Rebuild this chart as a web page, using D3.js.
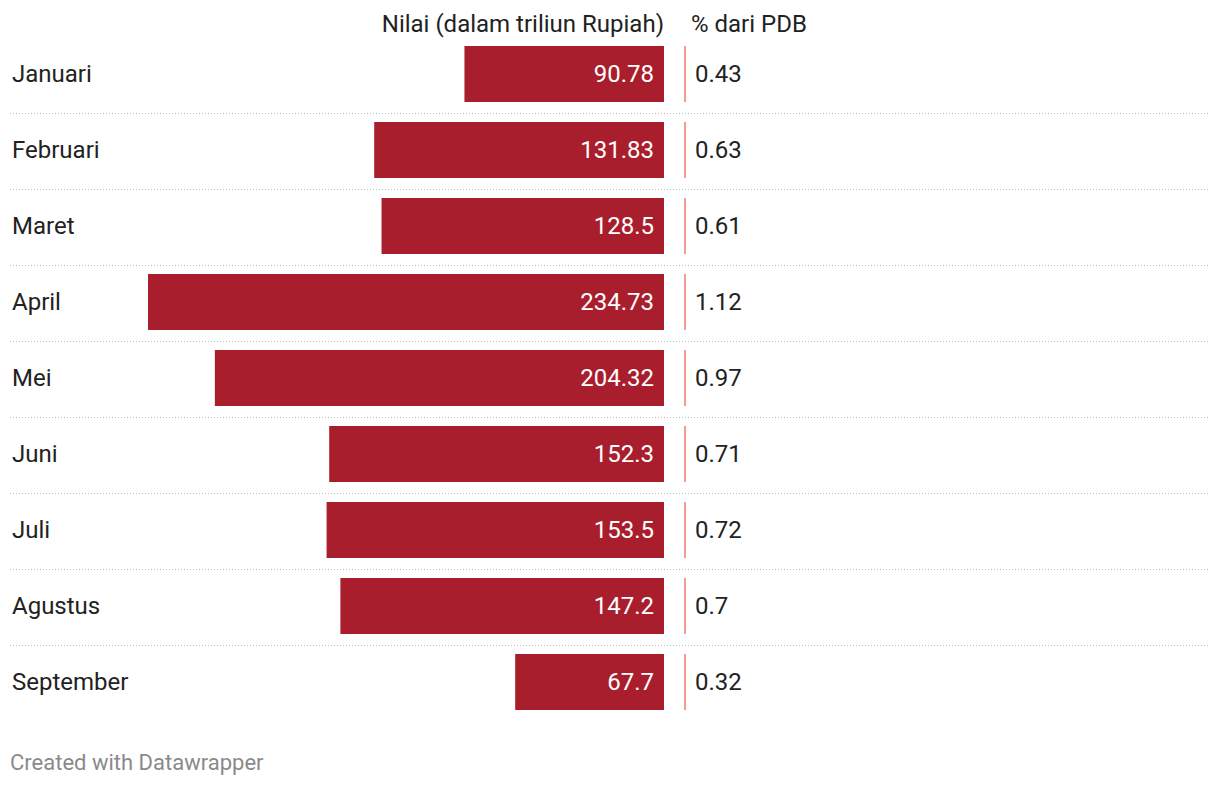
<!DOCTYPE html>
<html lang="id">
<head>
<meta charset="UTF-8">
<title>Nilai per bulan</title>
<style>
  body { margin: 0; background: #fff; }
  svg { display: block; font-family: Roboto, "Noto Sans", sans-serif; }
</style>
</head>
<body>
<script src="https://cdn.jsdelivr.net/npm/d3@7"></script>
<script>
const months = ["Januari", "Februari", "Maret", "April", "Mei", "Juni", "Juli", "Agustus", "September"];
const nilai = [90.78, 131.83, 128.5, 234.73, 204.32, 152.3, 153.5, 147.2, 67.7];
const pdb = ["0.43", "0.63", "0.61", "1.12", "0.97", "0.71", "0.72", "0.7", "0.32"];

const width = 1220, height = 786;
const barRight = 664, barLeft = 148;
const chartTop = 36, rowH = 76, barH = 56;

const svg = d3.select("body").append("svg")
    .attr("width", width)
    .attr("height", height);

const x = d3.scaleLinear()
    .domain([0, d3.max(nilai)])
    .range([0, barRight - barLeft]);

const y = d3.scaleBand()
    .domain(months)
    .range([chartTop, chartTop + rowH * months.length])
    .paddingInner(0).paddingOuter(0);

// column headers
svg.append("text")
    .attr("x", barRight).attr("y", 32)
    .attr("text-anchor", "end")
    .attr("font-size", 24).attr("fill", "#222")
    .text("Nilai (dalam triliun Rupiah)");
svg.append("text")
    .attr("x", 691).attr("y", 32)
    .attr("font-size", 24).attr("fill", "#222")
    .text("% dari PDB");

// dotted separators
svg.append("g").selectAll("line")
    .data(months.slice(0, -1))
    .join("line")
    .attr("x1", 10).attr("x2", 1210)
    .attr("y1", d => y(d) + rowH + 1.5)
    .attr("y2", d => y(d) + rowH + 1.5)
    .attr("stroke", "#bdbdbd")
    .attr("stroke-width", 1)
    .attr("stroke-dasharray", "1,2");

const row = svg.append("g").selectAll("g")
    .data(months)
    .join("g")
    .attr("transform", d => `translate(0,${y(d) + rowH / 2})`);

row.append("text")
    .attr("x", 12).attr("y", 0)
    .attr("dy", "0.35em")
    .attr("font-size", 24).attr("fill", "#222")
    .text(d => d);

row.append("rect")
    .attr("x", (d, i) => barRight - x(nilai[i]))
    .attr("y", -barH / 2)
    .attr("width", (d, i) => x(nilai[i]))
    .attr("height", barH)
    .attr("fill", "#a91e2c");

row.append("text")
    .attr("x", barRight - 10).attr("y", 0)
    .attr("dy", "0.35em")
    .attr("text-anchor", "end")
    .attr("font-size", 24).attr("fill", "#fff")
    .text((d, i) => nilai[i]);

row.append("line")
    .attr("x1", 685).attr("x2", 685)
    .attr("y1", -barH / 2).attr("y2", barH / 2)
    .attr("stroke", "#f07a6e")
    .attr("stroke-width", 1.5);

row.append("text")
    .attr("x", 695).attr("y", 0)
    .attr("dy", "0.35em")
    .attr("font-size", 24).attr("fill", "#222")
    .text((d, i) => pdb[i]);

// footer
svg.append("text")
    .attr("x", 10).attr("y", 770)
    .attr("font-size", 22).attr("fill", "#8a8a8a")
    .text("Created with Datawrapper");
</script>
</body>
</html>
